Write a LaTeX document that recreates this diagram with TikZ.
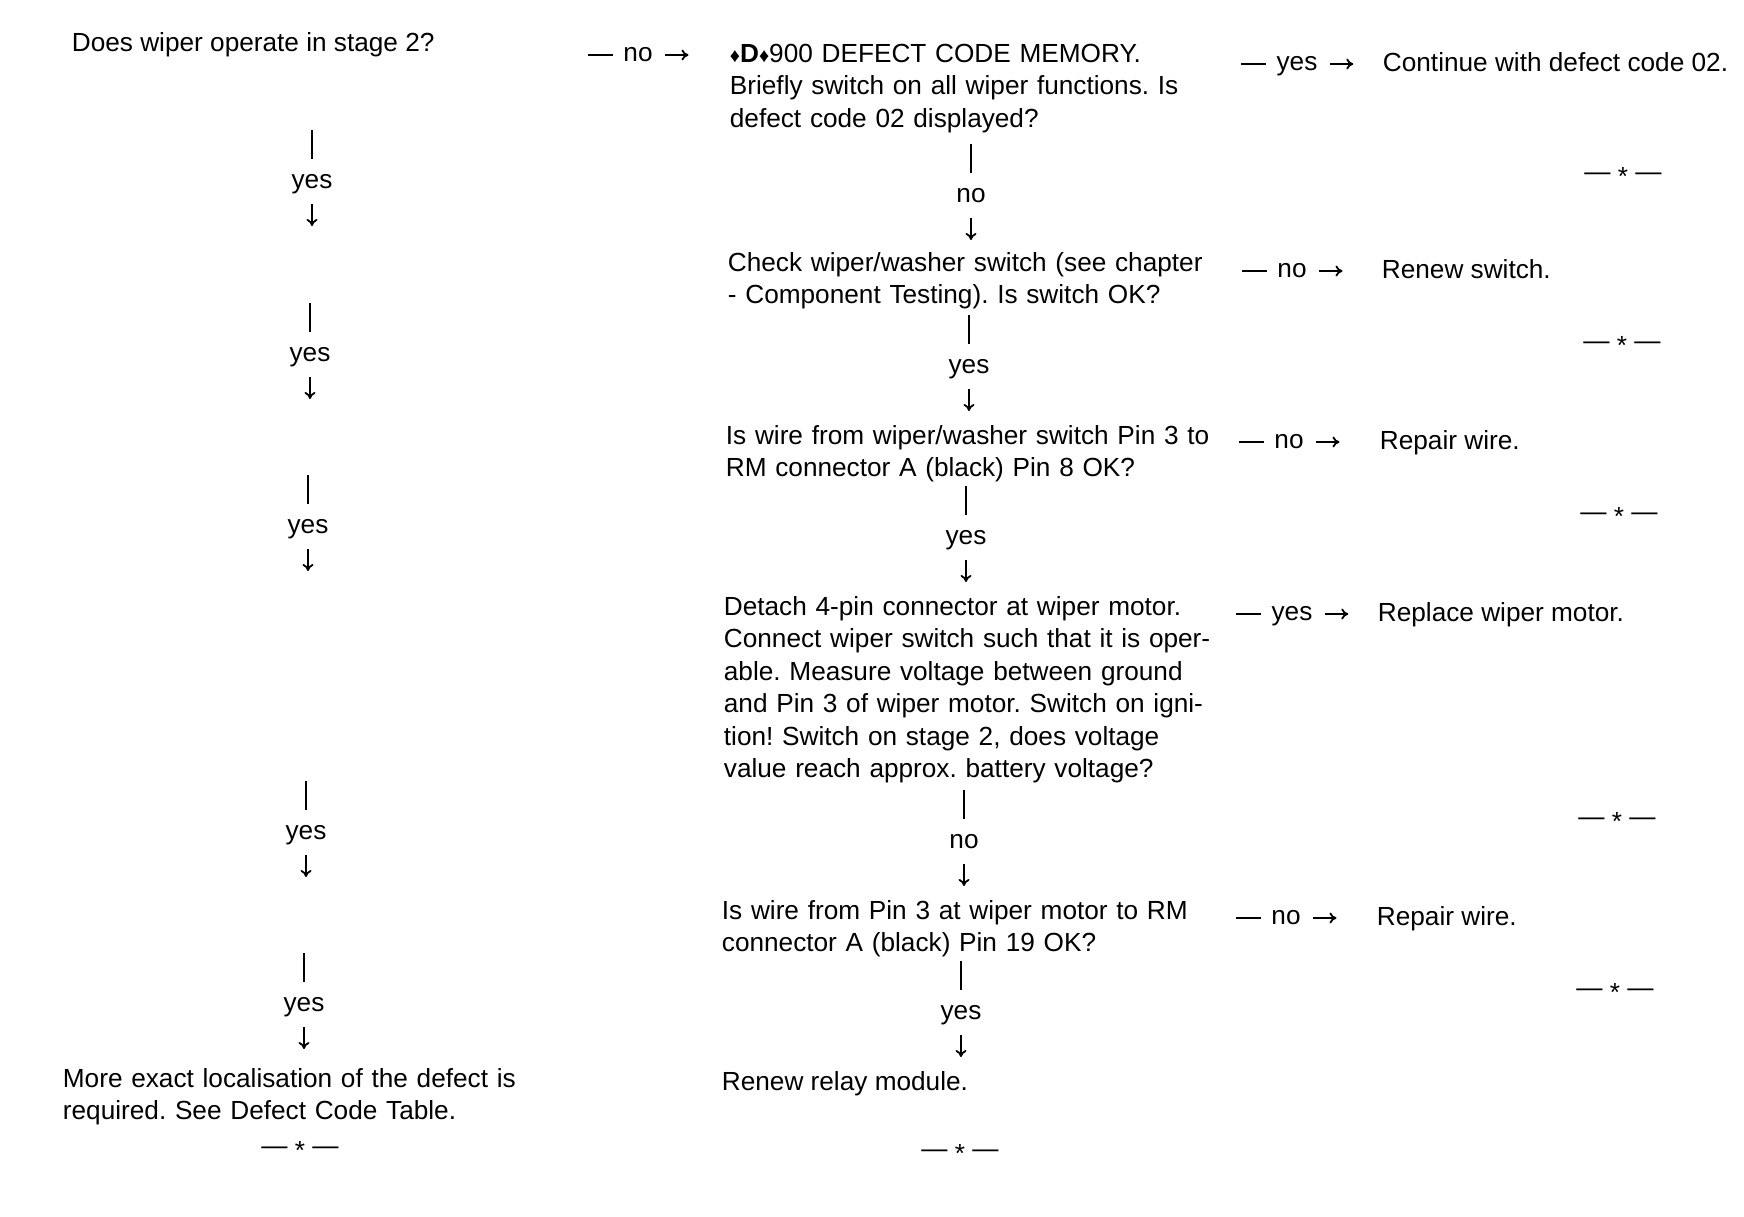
\documentclass[tikz,border=0pt]{standalone}
\usepackage{fontspec}
\setmainfont{Liberation Sans}
\usepackage{tikz}
\usetikzlibrary{arrows.meta}
\newcommand{\dia}{{\fontsize{10}{10}\selectfont ♦}}
\frenchspacing

\begin{document}
\begin{tikzpicture}[x=0.5pt,y=-0.5pt,line width=0.9pt,>={To[length=3.5pt,width=5.5pt]},
  txt/.style={anchor=base west,inner sep=0pt,font=\fontsize{13.1}{16.25}\selectfont},
  para/.style={txt,align=left,text width=250pt},
  lbl/.style={anchor=base,inner sep=0pt,font=\fontsize{13.1}{16.25}\selectfont},
  fin/.style={anchor=base,inner sep=0pt,font=\fontsize{13.1}{16.25}\selectfont}]
\useasboundingbox (0,0) rectangle (1744,1216);

% left column
\node (q0) [txt] at (71,51) {Does wiper operate in stage 2?};
\node (f1) [para] at (62,1087)
      {More exact localisation of the defect is\\ required. See Defect Code Table.};
\node (e7) [fin] at (300,1154) {— \raisebox{-0.2em}{*} —};

% middle column
\node (d1) [para] at (729,62)
      {\dia\textbf{D}\dia900 DEFECT CODE MEMORY.\\
       Briefly switch on all wiper functions. Is\\ defect code 02 displayed?};
\node (d2) [para] at (727,271)
      {Check wiper/washer switch (see chapter\\ - Component Testing). Is switch OK?};
\node (d3) [para] at (725,444)
      {Is wire from wiper/washer switch Pin 3 to\\ RM connector A (black) Pin 8 OK?};
\node (d4) [para] at (723,615)
      {Detach 4-pin connector at wiper motor.\\ Connect wiper switch such that it is oper-\\
       able. Measure voltage between ground\\ and Pin 3 of wiper motor. Switch on igni-\\
       tion! Switch on stage 2, does voltage\\ value reach approx. battery voltage?};
\node (d5) [para] at (721,919)
      {Is wire from Pin 3 at wiper motor to RM\\ connector A (black) Pin 19 OK?};
\node (d6) [txt] at (721,1090) {Renew relay module.};
\node (e6) [fin] at (960,1157) {— \raisebox{-0.2em}{*} —};

% right column
\node (o1) [txt] at (1382,71) {Continue with defect code 02.};
\node (o2) [txt] at (1381,278) {Renew switch.};
\node (o3) [txt] at (1379,449) {Repair wire.};
\node (o4) [txt] at (1377,621) {Replace wiper motor.};
\node (o5) [txt] at (1376,925) {Repair wire.};
\node (e1) [fin] at (1623,180) {— \raisebox{-0.2em}{*} —};
\node (e2) [fin] at (1622,349) {— \raisebox{-0.2em}{*} —};
\node (e3) [fin] at (1619,520) {— \raisebox{-0.2em}{*} —};
\node (e4) [fin] at (1617,825) {— \raisebox{-0.2em}{*} —};
\node (e5) [fin] at (1615,996) {— \raisebox{-0.2em}{*} —};

% sideways branches
\node (h0) [lbl] at (638,61) {no};
\draw (h0.base west) ++(-10,-6) -- ++(-25,0);  \draw[->] (h0.base east) ++(12,-6) -- ++(23,0);
\node (h1) [lbl] at (1297,70) {yes};
\draw (h1.base west) ++(-10,-6) -- ++(-25,0);  \draw[->] (h1.base east) ++(12,-6) -- ++(23,0);
\node (h2) [lbl] at (1292,277) {no};
\draw (h2.base west) ++(-10,-6) -- ++(-25,0);  \draw[->] (h2.base east) ++(12,-6) -- ++(23,0);
\node (h3) [lbl] at (1289,448) {no};
\draw (h3.base west) ++(-10,-6) -- ++(-25,0);  \draw[->] (h3.base east) ++(12,-6) -- ++(23,0);
\node (h4) [lbl] at (1292,620) {yes};
\draw (h4.base west) ++(-10,-6) -- ++(-25,0);  \draw[->] (h4.base east) ++(12,-6) -- ++(23,0);
\node (h5) [lbl] at (1286,924) {no};
\draw (h5.base west) ++(-10,-6) -- ++(-25,0);  \draw[->] (h5.base east) ++(12,-6) -- ++(23,0);

% downward branches, middle
\node (v1) [lbl] at (971,202) {no};
\draw (v1.base) ++(0,-58) -- ++(0,29);  \draw[->] (v1.base) ++(0,16) -- ++(0,22);
\node (v2) [lbl] at (969,373) {yes};
\draw (v2.base) ++(0,-58) -- ++(0,29);  \draw[->] (v2.base) ++(0,16) -- ++(0,22);
\node (v3) [lbl] at (966,544) {yes};
\draw (v3.base) ++(0,-58) -- ++(0,29);  \draw[->] (v3.base) ++(0,16) -- ++(0,22);
\node (v4) [lbl] at (964,848) {no};
\draw (v4.base) ++(0,-58) -- ++(0,29);  \draw[->] (v4.base) ++(0,16) -- ++(0,22);
\node (v5) [lbl] at (961,1019) {yes};
\draw (v5.base) ++(0,-58) -- ++(0,29);  \draw[->] (v5.base) ++(0,16) -- ++(0,22);

% downward branches, left
\node (y1) [lbl] at (312,188) {yes};
\draw (y1.base) ++(0,-58) -- ++(0,29);  \draw[->] (y1.base) ++(0,16) -- ++(0,22);
\node (y2) [lbl] at (310,361) {yes};
\draw (y2.base) ++(0,-58) -- ++(0,29);  \draw[->] (y2.base) ++(0,16) -- ++(0,22);
\node (y3) [lbl] at (308,533) {yes};
\draw (y3.base) ++(0,-58) -- ++(0,29);  \draw[->] (y3.base) ++(0,16) -- ++(0,22);
\node (y4) [lbl] at (306,839) {yes};
\draw (y4.base) ++(0,-58) -- ++(0,29);  \draw[->] (y4.base) ++(0,16) -- ++(0,22);
\node (y5) [lbl] at (304,1011) {yes};
\draw (y5.base) ++(0,-58) -- ++(0,29);  \draw[->] (y5.base) ++(0,16) -- ++(0,22);
\end{tikzpicture}
\end{document}
